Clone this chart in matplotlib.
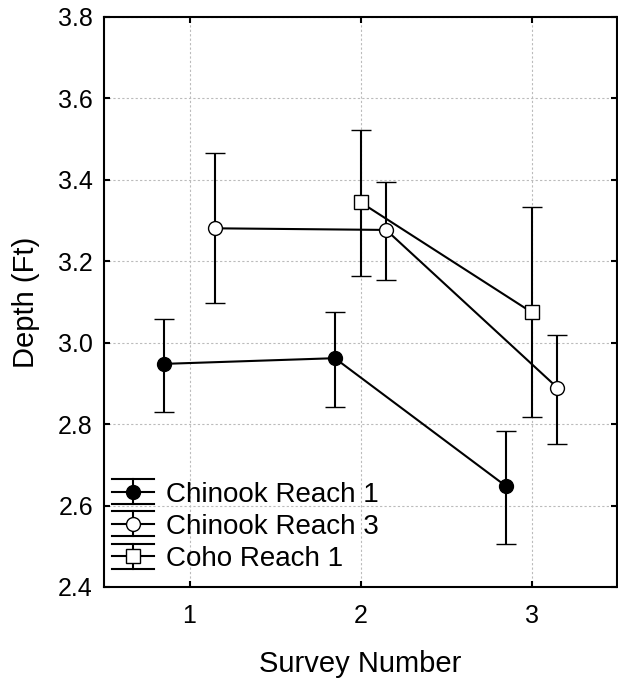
import numpy as np
import matplotlib.pyplot as plt
from matplotlib.lines import Line2D

plt.rcParams['font.family'] = ['Liberation Sans', 'DejaVu Sans']

# survey numbers and group means / error limits
surveys = np.array([1, 2, 3])
chinook1_mean = [2.948, 2.962, 2.648]
chinook1_low = [2.831, 2.841, 2.505]
chinook1_high = [3.058, 3.076, 2.783]

chinook3_mean = [3.281, 3.277, 2.890]
chinook3_low = [3.097, 3.153, 2.751]
chinook3_high = [3.466, 3.394, 3.019]

coho_surveys = np.array([2, 3])
coho_mean = [3.345, 3.075]
coho_low = [3.165, 2.817]
coho_high = [3.522, 3.333]

labels = ['Chinook Reach 1', 'Chinook Reach 3', 'Coho Reach 1']


def err(mean, low, high):
    mean = np.array(mean)
    return [mean - np.array(low), np.array(high) - mean]


class ErrProxy:
    def __init__(self, marker, face):
        self.marker = marker
        self.face = face


class ErrHandler:
    # legend key like the Statistica one: wide caps, whisker, line and marker
    def legend_artist(self, legend, orig_handle, fontsize, handlebox):
        x0, y0 = -handlebox.xdescent, -handlebox.ydescent
        w, h = handlebox.width, handlebox.height
        yc = y0 + h / 2
        half = 9.0
        tr = handlebox.get_transform()
        arts = [
            Line2D([x0, x0 + w], [yc, yc], color='black', lw=1.5),
            Line2D([x0, x0 + w], [yc + half, yc + half], color='black', lw=1.5),
            Line2D([x0, x0 + w], [yc - half, yc - half], color='black', lw=1.5),
            Line2D([x0 + w / 2, x0 + w / 2], [yc - half, yc + half], color='black', lw=1.5),
            Line2D([x0 + w / 2], [yc], marker=orig_handle.marker, markersize=10,
                   markerfacecolor=orig_handle.face, markeredgecolor='black',
                   markeredgewidth=1, ls='none'),
        ]
        for a in arts:
            a.set_transform(tr)
            handlebox.add_artist(a)
        return arts[0]


fig = plt.figure(figsize=(6.18, 6.82), dpi=100)
ax = fig.add_axes([104 / 618, 1 - 587 / 682, 513 / 618, 570 / 682])

kw = dict(color='black', lw=1.5, elinewidth=1.5, capsize=7, capthick=1.5,
          markersize=10, markeredgewidth=1)
ax.errorbar(surveys - 0.15, chinook1_mean, yerr=err(chinook1_mean, chinook1_low, chinook1_high),
            fmt='-o', markerfacecolor='black', **kw)
ax.errorbar(surveys + 0.15, chinook3_mean, yerr=err(chinook3_mean, chinook3_low, chinook3_high),
            fmt='-o', markerfacecolor='white', **kw)
ax.errorbar(coho_surveys, coho_mean, yerr=err(coho_mean, coho_low, coho_high),
            fmt='-s', markerfacecolor='white', **kw)

ax.set_xlim(0.5, 3.5)
ax.set_ylim(2.4, 3.8)
ax.set_xticks([1, 2, 3])
ax.set_yticks(np.arange(2.4, 3.81, 0.2))
ax.set_yticklabels(['%.1f' % v for v in np.arange(2.4, 3.81, 0.2)])
ax.grid(True, color='#bbbbbb', linestyle=(0, (2, 2)), linewidth=0.8)
ax.tick_params(direction='in', length=4, width=1.5, top=True, right=True,
               labelsize=18)
ax.tick_params(axis='y', pad=8)
ax.tick_params(axis='x', pad=12)
for s in ax.spines.values():
    s.set_linewidth(1.5)

ax.set_xlabel('Survey Number', fontsize=21, labelpad=16)
ax.set_ylabel('Depth (Ft)', fontsize=21, labelpad=13)

proxies = [ErrProxy('o', 'black'), ErrProxy('o', 'white'), ErrProxy('s', 'white')]
ax.legend(proxies, labels, handler_map={ErrProxy: ErrHandler()},
          loc='lower left', frameon=False, fontsize=20, handlelength=1.5,
          borderaxespad=0.0, borderpad=0.55, labelspacing=0.22, handletextpad=0.45,
          bbox_to_anchor=(-7 / 513, 0.0))

fig.savefig('out.png', dpi=100)
